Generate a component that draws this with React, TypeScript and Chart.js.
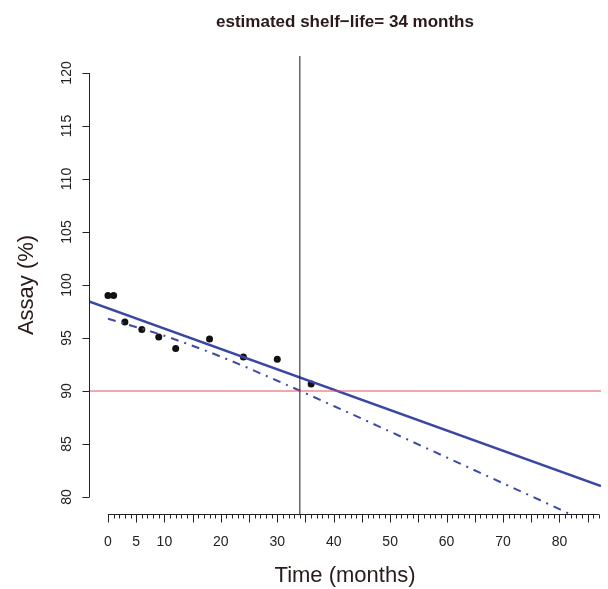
import React, { useEffect, useRef } from "react";
import { Chart, registerables } from "chart.js";

Chart.register(...registerables);

// Observed stability data
const months = [0, 1, 3, 6, 9, 12, 18, 24, 30, 36];
const assay = [99.0, 99.0, 96.5, 95.8, 95.1, 94.0, 94.9, 93.2, 93.0, 90.66];

// Fitted regression line (read at plot edges)
const fitX = [-3.36, 87.36];
const fitY = [98.46, 81.03];

// Lower one-sided confidence bound (dash-dot)
const lowerX = [0, 10, 20, 30, 40, 50, 60, 70, 80, 83];
const lowerY = [96.82, 95.21, 93.24, 90.97, 88.59, 86.17, 83.74, 81.3, 78.86, 78.1];

const specLimit = 90;
const shelfLife = 34;

const yTicks = [80, 85, 90, 95, 100, 105, 110, 115, 120];
const xMajorTicks = [0, 5, 10, 15, 20, 25, 30, 35, 40, 45, 50, 55, 60, 65, 70, 75, 80, 85];
const xTickLabels = [0, 5, 10, 20, 30, 40, 50, 60, 70, 80];
const xAxisEnd = 87;

const titleText = "estimated shelf\u2212life= 34 months";
const xTitle = "Time (months)";
const yTitle = "Assay (%)";

const X_MIN = -3.36;
const X_MAX = 87.36;
const Y_MIN = 78.4;
const Y_MAX = 121.6;

const FONT = "'Liberation Sans', Arial, Helvetica, sans-serif";

const axesPlugin = {
  id: "rAxes",
  afterDraw(chart: any) {
    const ctx = chart.ctx;
    const xs = chart.scales.x;
    const ys = chart.scales.y;
    const area = chart.chartArea;
    ctx.save();
    ctx.strokeStyle = "#222";
    ctx.fillStyle = "#222";
    ctx.lineWidth = 1;

    // y axis
    const yx = Math.round(area.left) + 0.5;
    ctx.beginPath();
    ctx.moveTo(yx, ys.getPixelForValue(yTicks[0]));
    ctx.lineTo(yx, ys.getPixelForValue(yTicks[yTicks.length - 1]));
    yTicks.forEach((t) => {
      const py = Math.round(ys.getPixelForValue(t)) + 0.5;
      ctx.moveTo(yx, py);
      ctx.lineTo(yx - 7, py);
    });
    ctx.stroke();
    ctx.font = "14px " + FONT;
    ctx.textAlign = "center";
    ctx.textBaseline = "middle";
    yTicks.forEach((t) => {
      const py = ys.getPixelForValue(t);
      ctx.save();
      ctx.translate(67, py);
      ctx.rotate(-Math.PI / 2);
      ctx.fillText(String(t), 0, 0);
      ctx.restore();
    });

    // x axis
    const xy = Math.round(area.bottom) + 0.5;
    ctx.beginPath();
    ctx.moveTo(xs.getPixelForValue(0), xy);
    ctx.lineTo(xs.getPixelForValue(xAxisEnd), xy);
    for (let m = 0; m <= xAxisEnd; m++) {
      const px = Math.round(xs.getPixelForValue(m)) + 0.5;
      const len = xMajorTicks.includes(m) ? 8 : 4;
      ctx.moveTo(px, xy);
      ctx.lineTo(px, xy + len);
    }
    ctx.stroke();
    ctx.textAlign = "center";
    ctx.textBaseline = "middle";
    xTickLabels.forEach((t) => {
      ctx.fillText(String(t), xs.getPixelForValue(t), 542);
    });

    // titles
    ctx.fillStyle = "#2a1a1a";
    ctx.font = "bold 17px " + FONT;
    ctx.fillText(titleText, (area.left + area.right) / 2, 22);
    ctx.font = "22px " + FONT;
    ctx.fillText(xTitle, (area.left + area.right) / 2, 576);
    ctx.save();
    ctx.translate(27, (area.top + area.bottom) / 2);
    ctx.rotate(-Math.PI / 2);
    ctx.fillText(yTitle, 0, 0);
    ctx.restore();
    ctx.restore();
  },
};

export default function App() {
  const ref = useRef<HTMLCanvasElement | null>(null);
  useEffect(() => {
    if (!ref.current) return;
    const chart = new Chart(ref.current, {
      type: "scatter",
      data: {
        datasets: [
          {
            label: "spec",
            data: [
              { x: X_MIN, y: specLimit },
              { x: X_MAX, y: specLimit },
            ],
            showLine: true,
            borderColor: "#e2505e",
            borderWidth: 1,
            pointRadius: 0,
          },
          {
            label: "shelf",
            data: [
              { x: shelfLife, y: Y_MIN },
              { x: shelfLife, y: Y_MAX },
            ],
            showLine: true,
            borderColor: "#1a1a1a",
            borderWidth: 1,
            pointRadius: 0,
          },
          {
            label: "lower",
            data: lowerX.map((x, i) => ({ x, y: lowerY[i] })),
            showLine: true,
            borderColor: "#3d4aa6",
            borderWidth: 2,
            borderDash: [8, 6, 2, 6],
            pointRadius: 0,
            tension: 0.3,
            cubicInterpolationMode: "monotone",
          },
          {
            label: "fit",
            data: fitX.map((x, i) => ({ x, y: fitY[i] })),
            showLine: true,
            borderColor: "#3a47a3",
            borderWidth: 2.5,
            pointRadius: 0,
          },
          {
            label: "data",
            data: months.map((x, i) => ({ x, y: assay[i] })),
            showLine: false,
            pointRadius: 3.5,
            pointBackgroundColor: "#111",
            pointBorderColor: "#111",
            pointBorderWidth: 0,
          },
        ],
      },
      options: {
        animation: false,
        responsive: false,
        devicePixelRatio: 1,
        layout: { padding: { left: 89, right: 7, top: 56, bottom: 75 } },
        plugins: {
          legend: { display: false },
          tooltip: { enabled: false },
          title: { display: false },
        },
        scales: {
          x: { type: "linear", min: X_MIN, max: X_MAX, display: false },
          y: { type: "linear", min: Y_MIN, max: Y_MAX, display: false },
        },
      },
      plugins: [axesPlugin],
    } as any);
    return () => chart.destroy();
  }, []);
  return (
    <div style={{ position: "fixed", left: 0, top: 0, width: 608, height: 589, background: "#fff" }}>
      <canvas ref={ref} width={608} height={589} />
    </div>
  );
}
